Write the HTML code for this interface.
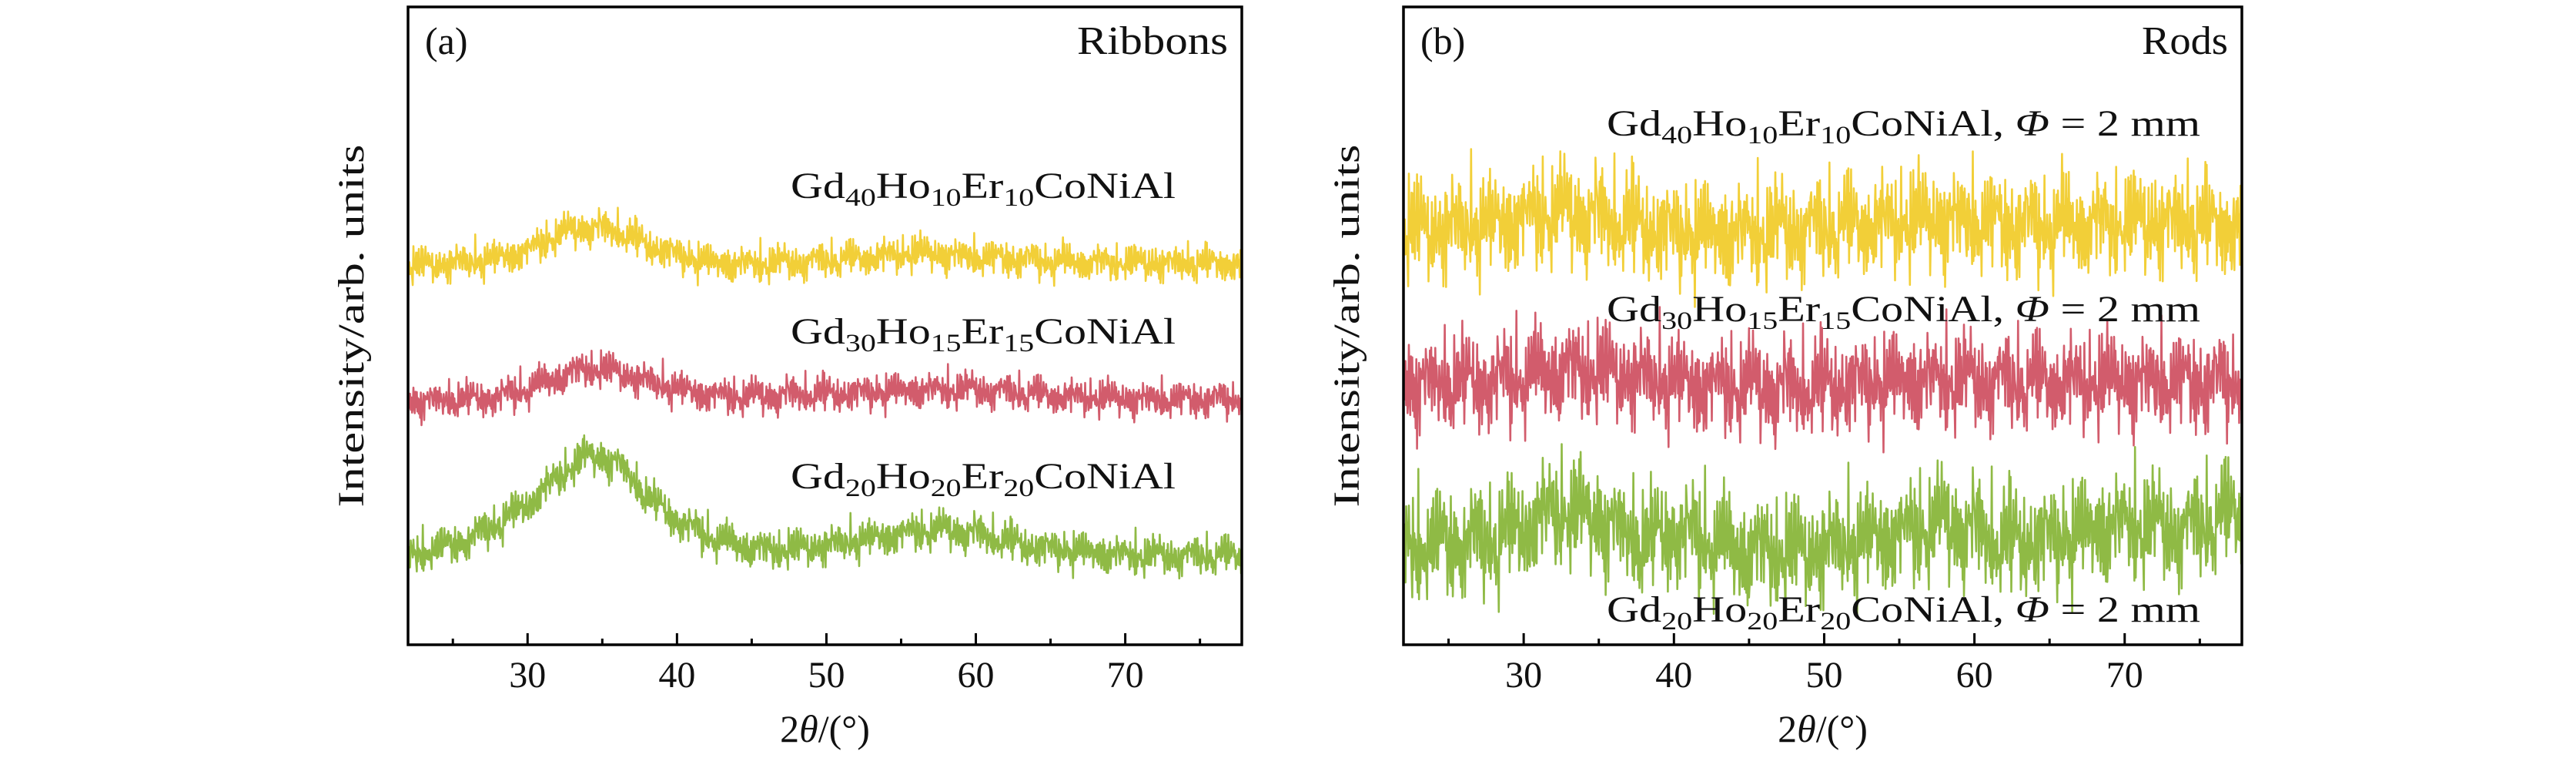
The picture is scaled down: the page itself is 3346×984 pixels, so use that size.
<!DOCTYPE html>
<html><head><meta charset="utf-8"><style>
html,body{margin:0;padding:0;background:#fff}
svg{display:block}
text{font-family:"Liberation Serif",serif;fill:#111}
</style></head><body>
<svg id="fig" width="3346" height="984" viewBox="0 0 3346 984" xmlns="http://www.w3.org/2000/svg">
<g id="pa"></g>
<g id="pb"></g>
</svg>
<script>
// ---- data ----
const xGrid = [22,24,26,28,30,32,34,36,38,40,42,44,46,48,50,52,54,56,58,60,62,64,66,68,70,72,74,76,78];
const xTicks = [30,40,50,60,70];
const xMinor = [25,35,45,55,65,75];
const ribbonYellow = [59.4,59.7,60.0,60.6,61.8,64.3,65.5,64.9,62.7,61.2,60.0,59.7,59.8,60.0,60.3,60.6,61.0,61.5,61.2,60.8,60.6,60.3,60.0,60.0,59.9,59.9,59.8,59.9,59.8];
const ribbonRed = [38.0,38.3,38.5,38.9,40.1,41.9,43.4,42.8,41.3,40.1,39.3,38.9,39.0,39.3,39.3,39.5,39.7,39.9,40.0,40.0,39.7,39.3,38.9,38.8,38.6,38.5,38.5,38.5,38.5];
const ribbonGreen = [13.9,15.1,16.5,19.0,22.0,26.2,29.8,28.6,23.2,19.6,17.1,15.7,14.9,15.1,15.6,16.3,17.0,17.8,18.0,17.5,16.3,15.3,14.9,14.4,14.1,14.0,14.0,14.0,14.0];
const rodYellow = [65.0,65.3,65.5,66.0,67.0,67.8,67.5,66.5,65.5,64.8,64.5,64.5,64.8,65.2,65.5,65.8,66.2,66.6,66.8,66.5,66.0,65.8,65.8,66.0,66.2,66.3,66.2,66.0,66.0];
const rodRed = [40.8,41.0,41.2,41.4,42.0,43.0,43.2,42.6,41.8,41.2,40.8,40.6,40.4,40.3,40.5,40.9,41.2,41.5,41.6,41.5,41.3,41.2,41.2,41.3,41.4,41.4,41.3,41.2,41.3];
const rodGreen = [15.0,15.8,16.2,16.5,18.5,21.0,20.5,18.5,16.0,18.0,16.5,15.0,14.8,14.5,15.2,16.0,17.0,18.0,19.0,18.0,16.0,16.5,17.0,18.0,19.0,18.5,18.0,19.5,21.0];
const jitter = [0.3,-0.8,0.6,-0.2,0.9,-0.5,0.1,-0.9,0.7,-0.3,0.4,-0.7,1.0,-0.4,0.2,-0.6,0.8,-1.0,0.5,-0.1,0.6,-0.8,0.3,-0.5,0.9,-0.2,0.7,-0.9,0.1,-0.4,0.5,-0.7,0.2,-0.3,0.8,-0.6,0.4,-1.0,0.6,-0.2,0.35,-0.55,0.15,-0.85,0.75,-0.45];
const jitter2 = [-0.4,0.7,-0.1,0.2,-0.9,0.5,0.0,-0.3,1.3,-0.6,0.4,-0.2,0.8,-1.2,0.3,0.1,-0.5,0.6,-0.8,0.2,-0.1,0.9,-0.4,0.5,-1.4,0.3,0.7,-0.2,0.1,-0.7,1.1,-0.3,0.4,-0.6,0.2,0.8,-0.9,0.0,0.5,-0.4,1.5,-0.5,0.3,-0.1,-0.8,0.6,0.2,-1.1,0.4,-0.3,0.9,-0.6,0.1];

const NS="http://www.w3.org/2000/svg";
const YT=9, YB=837, XMIN=22, XMAX=77.8;
function mk(t,a,p){const e=document.createElementNS(NS,t);for(const k in a)e.setAttribute(k,a[k]);p.appendChild(e);return e;}
function interp(arr,x){const f=(x-22)/2;const i=Math.min(Math.floor(f),arr.length-2);const t=f-i;return arr[i]*(1-t)+arr[i+1]*t;}

function panel(g,L,R,series,labels,tag,corner){
  const sx=v=>L+(v-XMIN)/(XMAX-XMIN)*(R-L);
  const sy=v=>YB-v/100*(YB-YT);
  series.forEach((s,k)=>{
    let d="";let n=0;
    for(let x=XMIN;x<=XMAX;x+=0.045){
      const j=0.65*jitter[(n*13+k*7)%jitter.length]+0.6*jitter2[(n*11+k*5)%jitter2.length];
      const v=interp(s.vals,x)+s.amp*j;
      d+=(n?"L":"M")+sx(x).toFixed(1)+" "+sy(v).toFixed(1);n++;
    }
    const p=mk("path",{d:d,fill:"none",stroke:s.color,"stroke-width":2.6,"stroke-linejoin":"round"},g);
    
    
  });
  const fr=mk("rect",{x:L,y:YT,width:R-L,height:YB-YT,fill:"none",stroke:"#000","stroke-width":3.5},g);
  
  
  xTicks.forEach(t=>{
    const l=mk("line",{x1:sx(t),x2:sx(t),y1:YB,y2:YB-15,stroke:"#000","stroke-width":3},g);
    
    
    const tx=mk("text",{x:sx(t),y:892,"text-anchor":"middle","font-size":48},g);
    tx.textContent=t;
    
    
  });
  xMinor.forEach(t=>{
    const l=mk("line",{x1:sx(t),x2:sx(t),y1:YB,y2:YB-8,stroke:"#000","stroke-width":3},g);
    
    
  });
  const xt=mk("text",{x:(L+R)/2,y:963,"text-anchor":"middle","font-size":50},g);
  xt.innerHTML='2<tspan font-style="italic">θ</tspan>/(°)';
  
  
  const ax=L-58, ay=(YT+YB)/2;
  const yt=mk("text",{x:ax,y:ay,"text-anchor":"middle","font-size":48,transform:`rotate(-90 ${ax} ${ay})`,textLength:471,lengthAdjust:"spacingAndGlyphs"},g);
  yt.textContent="Intensity/arb. units";
  
  
  const tg=mk("text",{x:L+22,y:70,"font-size":50},g);
  tg.textContent=tag;
  
  
  const cn=mk("text",{x:R-18,y:70,"text-anchor":"end","font-size":52,textLength:corner.length*28,lengthAdjust:"spacingAndGlyphs"},g);
  cn.textContent=corner;
  
  
  labels.forEach(lb=>{
    const t=mk("text",{x:lb.x,y:lb.y,"font-size":48,textLength:lb.w,lengthAdjust:"spacingAndGlyphs"},g);
    const s=lb.sub;
    t.innerHTML=`Gd<tspan font-size="33" dy="10">${s[0]}</tspan><tspan dy="-10">Ho</tspan><tspan font-size="33" dy="10">${s[1]}</tspan><tspan dy="-10">Er</tspan><tspan font-size="33" dy="10">${s[2]}</tspan><tspan dy="-10">CoNiAl${lb.rod?', <tspan font-style="italic">Φ</tspan> = 2 mm':''}</tspan>`;
    
    
  });
}
panel(document.getElementById('pa'),530,1613,[
  {vals:ribbonYellow,amp:2.7,color:"#f2cf38",name:"ribbon-gd40-trace"},
  {vals:ribbonRed,amp:2.7,color:"#d25c6c",name:"ribbon-gd30-trace"},
  {vals:ribbonGreen,amp:2.9,color:"#8fba45",name:"ribbon-gd20-trace"}],
  [{x:1027,y:257,w:500,sub:["40","10","10"]},{x:1027,y:446,w:500,sub:["30","15","15"]},{x:1027,y:634,w:500,sub:["20","20","20"]}],
  "(a)","Ribbons");
panel(document.getElementById('pb'),1823,2912,[
  {vals:rodYellow,amp:7.8,color:"#f2cf38",name:"rod-gd40-trace"},
  {vals:rodRed,amp:7.4,color:"#d25c6c",name:"rod-gd30-trace"},
  {vals:rodGreen,amp:8.2,color:"#8fba45",name:"rod-gd20-trace"}],
  [{x:2087,y:176,w:771,sub:["40","10","10"],rod:1},{x:2087,y:417,w:771,sub:["30","15","15"],rod:1},{x:2087,y:807,w:771,sub:["20","20","20"],rod:1}],
  "(b)","Rods");
</script>
</body></html>
